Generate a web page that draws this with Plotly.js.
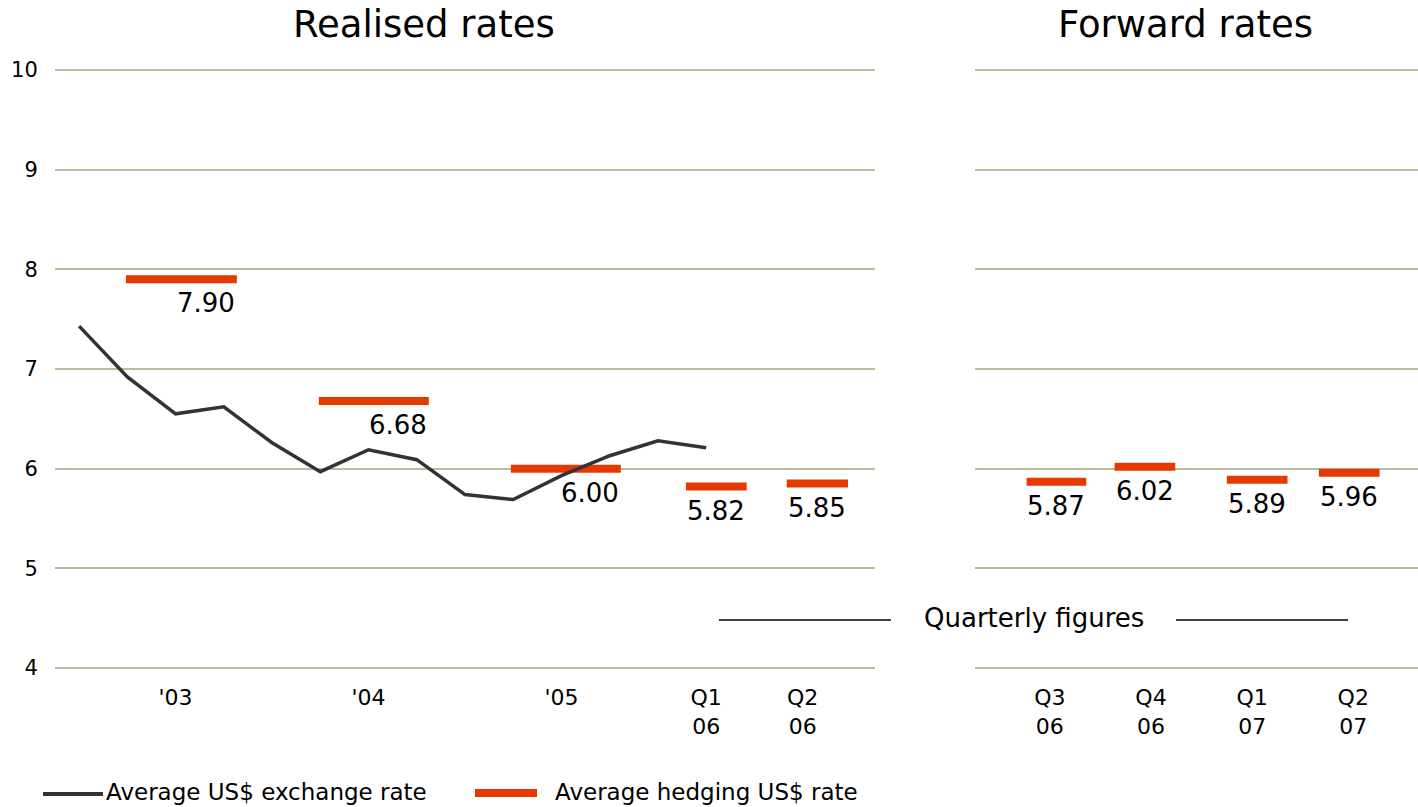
<!DOCTYPE html>
<html>
<head>
<meta charset="utf-8">
<script src="https://cdn.plot.ly/plotly-3.0.1.min.js"></script>
<style>
  html, body { margin: 0; padding: 0; background: #ffffff; }
  #chart { width: 1418px; height: 807px; }
</style>
</head>
<body>
<div id="chart"></div>
<script>
// Average US$ exchange rate, quarterly, Q1 2003 to Q1 2006
const spotX = [0, 1, 2, 3, 4, 5, 6, 7, 8, 9, 10, 11, 12, 13];
const spotRate = [7.43, 6.92, 6.55, 6.62, 6.26, 5.97, 6.19, 6.09, 5.74, 5.69, 5.93, 6.13, 6.28, 6.21];

// Realised hedging rates: yearly for 2003-2005, then quarterly
const realisedHedge = [7.90, 6.68, 6.00, 5.82, 5.85];
const realisedFrom = [0.97, 4.97, 8.95, 12.58, 14.67];
const realisedTo = [3.27, 7.25, 11.23, 13.84, 15.94];
const realisedYearly = [true, true, true, false, false];

// Forward hedging rates by quarter
const forwardHedge = [5.87, 6.02, 5.89, 5.96];
const forwardFrom = [-0.23, 0.64, 1.75, 2.66];
const forwardTo = [0.36, 1.24, 2.35, 3.26];

// Category tick labels
const realisedTickPos = [2, 6, 10, 13, 15];
const realisedTicks = ["'03", "'04", "'05", "Q1<br>06", "Q2<br>06"];
const forwardTickPos = [0, 1, 2, 3];
const forwardTicks = ["Q3<br>06", "Q4<br>06", "Q1<br>07", "Q2<br>07"];
const yTicks = [4, 5, 6, 7, 8, 9, 10];

const W = 1418, H = 807;
const M = { l: 55, r: 0, t: 67, b: 136 };
const plotW = W - M.l - M.r, plotH = H - M.t - M.b;
const px = x => (x - M.l) / plotW;          // page pixel -> paper x
const py = y => (H - M.b - y) / plotH;       // page pixel -> paper y

const FONT = 'DejaVu Sans, Verdana, sans-serif';
const GRID = '#bdbb9c';
const ORANGE = '#e63900';
const DARK = '#333333';

function segments(from, to, vals) {
  const xs = [], ys = [];
  for (let i = 0; i < vals.length; i++) {
    xs.push(from[i], to[i], null);
    ys.push(vals[i], vals[i], null);
  }
  return { xs, ys };
}

const rs = segments(realisedFrom, realisedTo, realisedHedge);
const fs = segments(forwardFrom, forwardTo, forwardHedge);

const traces = [
  {
    x: rs.xs, y: rs.ys, xaxis: 'x', yaxis: 'y',
    type: 'scatter', mode: 'lines', name: 'Average hedging US$ rate',
    line: { color: ORANGE, width: 8 }, connectgaps: false,
    hoverinfo: 'skip', showlegend: false
  },
  {
    x: spotX, y: spotRate, xaxis: 'x', yaxis: 'y',
    type: 'scatter', mode: 'lines', name: 'Average US$ exchange rate',
    line: { color: DARK, width: 3.5 }, showlegend: false
  },
  {
    x: fs.xs, y: fs.ys, xaxis: 'x2', yaxis: 'y',
    type: 'scatter', mode: 'lines', name: 'Average hedging US$ rate',
    line: { color: ORANGE, width: 8 }, connectgaps: false,
    hoverinfo: 'skip', showlegend: false
  }
];

const annotations = [];

// Value labels under each hedging bar
realisedHedge.forEach((v, i) => {
  const yearly = realisedYearly[i];
  annotations.push({
    xref: 'x', yref: 'y',
    x: yearly ? realisedTo[i] : (realisedFrom[i] + realisedTo[i]) / 2,
    y: v, yshift: -24,
    xanchor: yearly ? 'right' : 'center', yanchor: 'middle',
    text: v.toFixed(2), showarrow: false,
    font: { family: FONT, size: 26, color: '#000000' }
  });
});
forwardHedge.forEach((v, i) => {
  annotations.push({
    xref: 'x2', yref: 'y',
    x: (forwardFrom[i] + forwardTo[i]) / 2,
    y: v, yshift: -24,
    xanchor: 'center', yanchor: 'middle',
    text: v.toFixed(2), showarrow: false,
    font: { family: FONT, size: 26, color: '#000000' }
  });
});

// Panel titles, bracket caption and legend texts
annotations.push(
  { xref: 'paper', yref: 'paper', x: px(424), y: py(25), xanchor: 'center', yanchor: 'middle',
    text: 'Realised rates', showarrow: false, font: { family: FONT, size: 37, color: '#000000' } },
  { xref: 'paper', yref: 'paper', x: px(1185), y: py(25), xanchor: 'center', yanchor: 'middle',
    text: 'Forward rates', showarrow: false, font: { family: FONT, size: 37, color: '#000000' } },
  { xref: 'paper', yref: 'paper', x: px(1034), y: py(618), xanchor: 'center', yanchor: 'middle',
    text: 'Quarterly figures', showarrow: false, font: { family: FONT, size: 26, color: '#000000' } },
  { xref: 'paper', yref: 'paper', x: px(104), y: py(792), xanchor: 'left', yanchor: 'middle',
    text: 'Average US$ exchange rate', showarrow: false, font: { family: FONT, size: 23, color: '#000000' } },
  { xref: 'paper', yref: 'paper', x: px(553), y: py(792), xanchor: 'left', yanchor: 'middle',
    text: 'Average hedging US$ rate', showarrow: false, font: { family: FONT, size: 23, color: '#000000' } }
);

const shapes = [
  // bracket lines around "Quarterly figures"
  { type: 'line', xref: 'paper', yref: 'paper', x0: px(719), x1: px(891), y0: py(620), y1: py(620),
    line: { color: '#000000', width: 1.5 } },
  { type: 'line', xref: 'paper', yref: 'paper', x0: px(1176), x1: px(1348), y0: py(620), y1: py(620),
    line: { color: '#000000', width: 1.5 } },
  // legend keys
  { type: 'line', xref: 'paper', yref: 'paper', x0: px(43), x1: px(103), y0: py(794), y1: py(794),
    line: { color: DARK, width: 4 } },
  { type: 'line', xref: 'paper', yref: 'paper', x0: px(475), x1: px(537), y0: py(793), y1: py(793),
    line: { color: ORANGE, width: 8 } }
];

const xCommon = {
  showgrid: false, zeroline: false, showline: false,
  ticks: 'outside', ticklen: 7, tickcolor: 'rgba(0,0,0,0)',
  tickfont: { family: FONT, size: 22, color: '#000000' },
  fixedrange: true
};

const layout = {
  width: W, height: H,
  margin: M,
  paper_bgcolor: '#ffffff', plot_bgcolor: '#ffffff',
  showlegend: false,
  xaxis: Object.assign({}, xCommon, {
    domain: [0, px(875)], range: [-0.5, 16.5],
    tickmode: 'array', tickvals: realisedTickPos, ticktext: realisedTicks
  }),
  xaxis2: Object.assign({}, xCommon, {
    domain: [px(975), 1], range: [-0.74, 3.64], anchor: 'y',
    tickmode: 'array', tickvals: forwardTickPos, ticktext: forwardTicks
  }),
  yaxis: {
    range: [3.97, 10.03], tickmode: 'array', tickvals: yTicks,
    showgrid: true, gridcolor: GRID, gridwidth: 2,
    zeroline: false, showline: false,
    ticks: 'outside', ticklen: 12, tickcolor: 'rgba(0,0,0,0)',
    tickfont: { family: FONT, size: 21, color: '#000000' },
    fixedrange: true
  },
  annotations: annotations,
  shapes: shapes
};

Plotly.newPlot('chart', traces, layout, { displayModeBar: false, staticPlot: true });
</script>
</body>
</html>
